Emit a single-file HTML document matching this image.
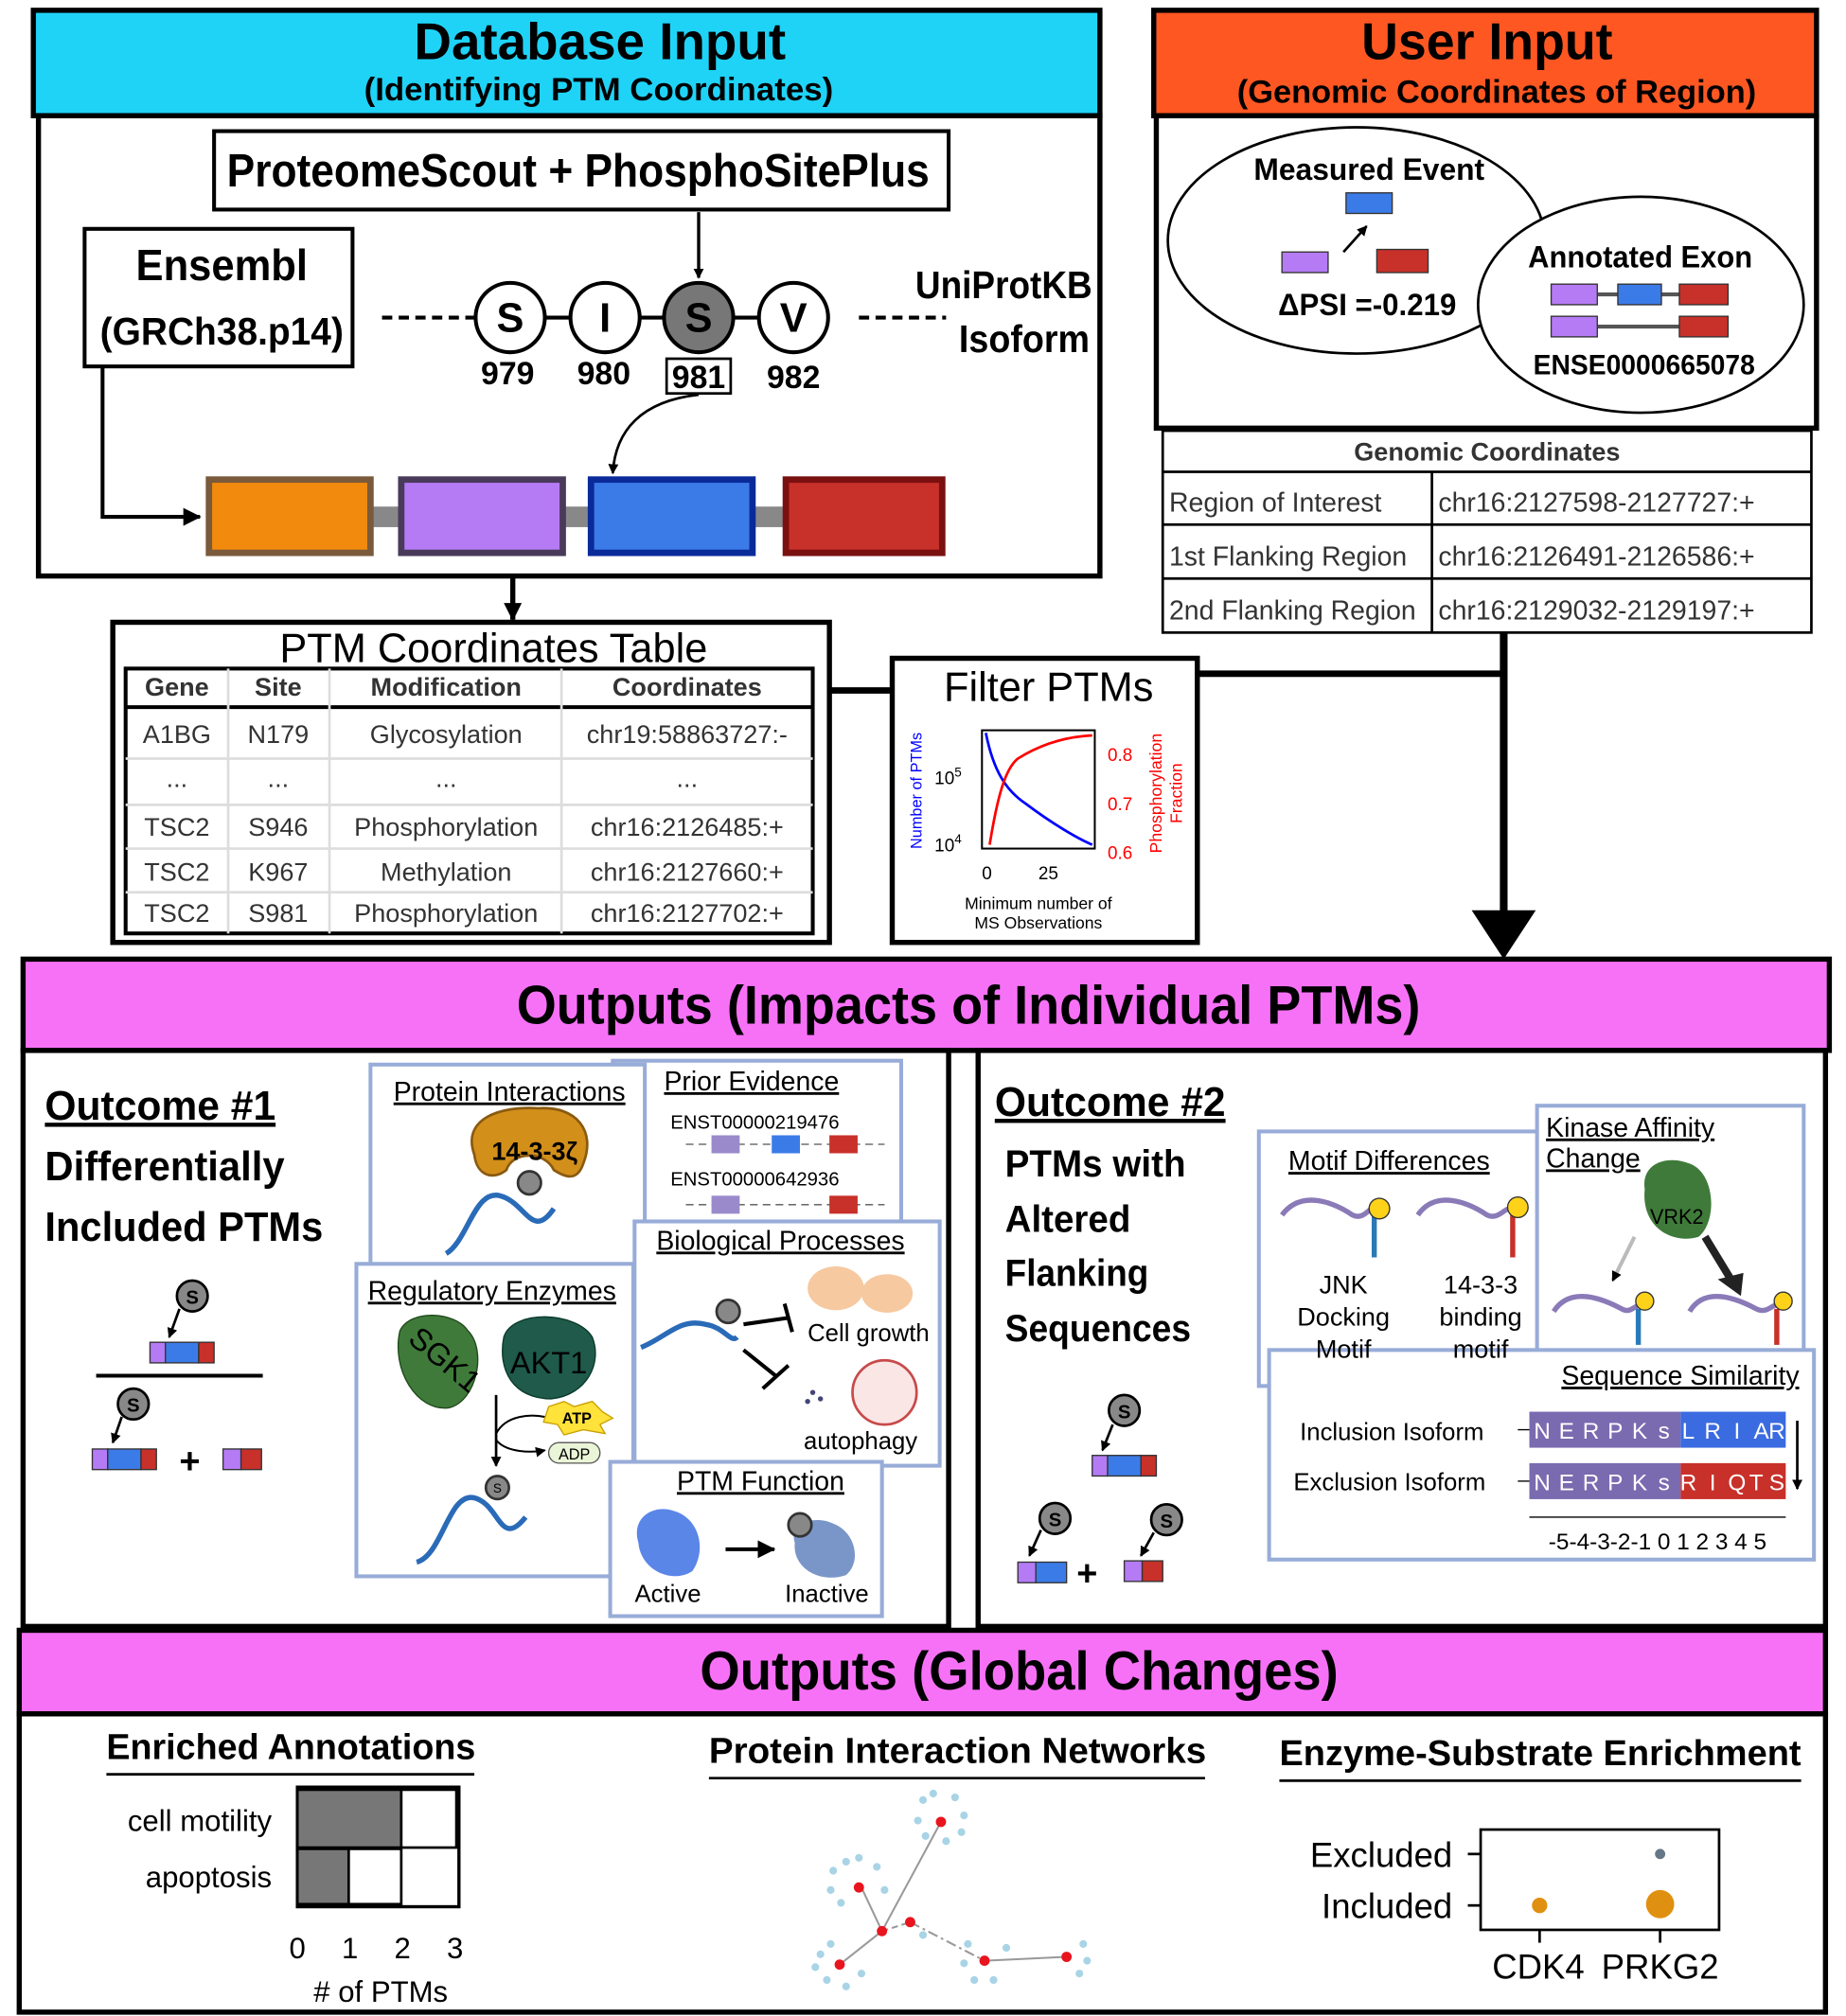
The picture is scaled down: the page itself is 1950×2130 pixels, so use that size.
<!DOCTYPE html>
<html><head><meta charset="utf-8"><style>
html,body{margin:0;padding:0;background:#fff}
svg{display:block}
text{font-family:"Liberation Sans",sans-serif}
.b{font-weight:bold}
</style></head><body>
<svg width="1950" height="2130" viewBox="0 0 1440 1568" preserveAspectRatio="none" xmlns="http://www.w3.org/2000/svg">
<defs>
<marker id="ah" markerWidth="8" markerHeight="8" refX="7" refY="4" orient="auto" markerUnits="userSpaceOnUse"><path d="M0,0 L8,4 L0,8z" fill="#000"/></marker>
<marker id="ahb" markerWidth="14" markerHeight="14" refX="13" refY="7" orient="auto" markerUnits="userSpaceOnUse"><path d="M0,0 L14,7 L0,14z" fill="#000"/></marker>
</defs>
<!-- Database input -->
<rect x="26" y="8" width="832" height="82" fill="#1fd3f7" stroke="#000" stroke-width="4"/>
<text x="323" y="46" class="b" font-size="40" textLength="290" lengthAdjust="spacingAndGlyphs">Database Input</text>
<text x="284" y="78" class="b" font-size="25" textLength="366" lengthAdjust="spacingAndGlyphs">(Identifying PTM Coordinates)</text>
<rect x="30" y="90" width="828" height="358" fill="#fff" stroke="#000" stroke-width="4"/>
<rect x="167" y="102" width="573" height="61" fill="#fff" stroke="#000" stroke-width="3"/>
<text x="177" y="145" class="b" font-size="36" textLength="548" lengthAdjust="spacingAndGlyphs">ProteomeScout + PhosphoSitePlus</text>
<rect x="66" y="178" width="209" height="107" fill="#fff" stroke="#000" stroke-width="3"/>
<text x="106" y="218" class="b" font-size="34" textLength="134" lengthAdjust="spacingAndGlyphs">Ensembl</text>
<text x="78" y="268" class="b" font-size="30" textLength="190" lengthAdjust="spacingAndGlyphs">(GRCh38.p14)</text>
<line x1="298" y1="247" x2="370" y2="247" stroke="#000" stroke-width="3" stroke-dasharray="8,5"/>
<line x1="425" y1="247" x2="592" y2="247" stroke="#000" stroke-width="3"/>
<line x1="670" y1="247" x2="738" y2="247" stroke="#000" stroke-width="3" stroke-dasharray="8,5"/>
<g font-size="32" text-anchor="middle" class="b">
<circle cx="398" cy="247" r="27" fill="#fff" stroke="#000" stroke-width="3"/><text x="398" y="258">S</text>
<circle cx="472" cy="247" r="27" fill="#fff" stroke="#000" stroke-width="3"/><text x="472" y="258">I</text>
<circle cx="545" cy="247" r="27" fill="#777" stroke="#000" stroke-width="3"/><text x="545" y="258">S</text>
<circle cx="619" cy="247" r="27" fill="#fff" stroke="#000" stroke-width="3"/><text x="619" y="258">V</text>
</g>
<g font-size="25" text-anchor="middle" class="b">
<text x="396" y="299">979</text><text x="471" y="299">980</text><text x="545" y="302">981</text><text x="619" y="302">982</text></g>
<rect x="520" y="279" width="50" height="27" fill="none" stroke="#000" stroke-width="2"/>
<text x="714" y="232" class="b" font-size="30" textLength="138" lengthAdjust="spacingAndGlyphs">UniProtKB</text>
<text x="748" y="274" class="b" font-size="30" textLength="102" lengthAdjust="spacingAndGlyphs">Isoform</text>
<line x1="545" y1="165" x2="545" y2="216" stroke="#000" stroke-width="2.5" marker-end="url(#ah)"/>
<path d="M545,307 C500,312 480,335 478,368" fill="none" stroke="#000" stroke-width="2" marker-end="url(#ah)"/>
<path d="M80,285 L80,402 L156,402" fill="none" stroke="#000" stroke-width="3" marker-end="url(#ahb)"/>
<rect x="290" y="394" width="322" height="16" fill="#888"/>
<rect x="163" y="373" width="126" height="57" fill="#f28a0e" stroke="#7a5a3a" stroke-width="5"/>
<rect x="313" y="373" width="126" height="57" fill="#b57bf5" stroke="#4a3a5a" stroke-width="5"/>
<rect x="461" y="373" width="126" height="57" fill="#3b7be8" stroke="#0a2a9a" stroke-width="5"/>
<rect x="613" y="373" width="122" height="57" fill="#c8302a" stroke="#7a1010" stroke-width="5"/>
<line x1="400" y1="448" x2="400" y2="482" stroke="#000" stroke-width="4" marker-end="url(#ahb)"/>

<!-- User input -->
<rect x="900" y="8" width="517" height="82" fill="#ff5722" stroke="#000" stroke-width="4"/>
<text x="1062" y="46" class="b" font-size="40" textLength="196" lengthAdjust="spacingAndGlyphs">User Input</text>
<text x="965" y="80" class="b" font-size="25" textLength="405" lengthAdjust="spacingAndGlyphs">(Genomic Coordinates of Region)</text>
<rect x="902" y="90" width="515" height="243" fill="#fff" stroke="#000" stroke-width="4"/>
<ellipse cx="1058" cy="187" rx="147" ry="88" fill="#fff" stroke="#000" stroke-width="2"/>
<ellipse cx="1280" cy="237" rx="127" ry="84" fill="#fff" stroke="#000" stroke-width="2"/>
<text x="978" y="140" class="b" font-size="24" textLength="180" lengthAdjust="spacingAndGlyphs">Measured Event</text>
<rect x="1050" y="150" width="36" height="16" fill="#3b7be8" stroke="#333"/>
<rect x="1000" y="196" width="36" height="16" fill="#b57bf5" stroke="#333"/>
<rect x="1074" y="194" width="40" height="18" fill="#c8302a" stroke="#333"/>
<line x1="1048" y1="196" x2="1066" y2="176" stroke="#000" stroke-width="2" marker-end="url(#ah)"/>
<text x="997" y="245" class="b" font-size="24" textLength="139" lengthAdjust="spacingAndGlyphs">ΔPSI =-0.219</text>
<text x="1192" y="208" class="b" font-size="24" textLength="175" lengthAdjust="spacingAndGlyphs">Annotated Exon</text>
<line x1="1210" y1="229" x2="1348" y2="229" stroke="#555" stroke-width="3"/>
<line x1="1210" y1="254" x2="1348" y2="254" stroke="#555" stroke-width="3"/>
<rect x="1210" y="221" width="36" height="16" fill="#b57bf5" stroke="#333"/>
<rect x="1262" y="221" width="34" height="16" fill="#3b7be8" stroke="#333"/>
<rect x="1310" y="221" width="38" height="16" fill="#c8302a" stroke="#333"/>
<rect x="1210" y="246" width="36" height="16" fill="#b57bf5" stroke="#333"/>
<rect x="1310" y="246" width="38" height="16" fill="#c8302a" stroke="#333"/>
<text x="1196" y="291" class="b" font-size="22" textLength="173" lengthAdjust="spacingAndGlyphs">ENSE0000665078</text>
<g stroke="#000" stroke-width="2" fill="none">
<rect x="907" y="335" width="506" height="157"/>
<line x1="907" y1="367" x2="1413" y2="367"/><line x1="907" y1="408" x2="1413" y2="408"/><line x1="907" y1="450" x2="1413" y2="450"/>
<line x1="1117" y1="367" x2="1117" y2="492"/></g>
<text x="1160" y="358" text-anchor="middle" class="b" font-size="20" fill="#333">Genomic Coordinates</text>
<g font-size="21" fill="#333"><text x="912" y="398">Region of Interest</text><text x="912" y="440">1st Flanking Region</text><text x="912" y="482">2nd Flanking Region</text>
<text x="1122" y="398">chr16:2127598-2127727:+</text><text x="1122" y="440">chr16:2126491-2126586:+</text><text x="1122" y="482">chr16:2129032-2129197:+</text></g>

<!-- PTM Table -->
<rect x="88" y="484" width="559" height="249" fill="#fff" stroke="#000" stroke-width="4"/>
<text x="385" y="515" text-anchor="middle" font-size="32">PTM Coordinates Table</text>
<rect x="98" y="520" width="536" height="206" fill="#fff" stroke="#000" stroke-width="3"/>
<line x1="98" y1="550" x2="634" y2="550" stroke="#000" stroke-width="3"/>
<g stroke="#ddd" stroke-width="2"><line x1="178" y1="520" x2="178" y2="726"/><line x1="257" y1="520" x2="257" y2="726"/><line x1="438" y1="520" x2="438" y2="726"/>
<line x1="98" y1="590" x2="634" y2="590"/><line x1="98" y1="626" x2="634" y2="626"/><line x1="98" y1="660" x2="634" y2="660"/><line x1="98" y1="694" x2="634" y2="694"/></g>
<g font-size="20" fill="#333" text-anchor="middle">
<text x="138" y="541" class="b">Gene</text><text x="217" y="541" class="b">Site</text><text x="348" y="541" class="b">Modification</text><text x="536" y="541" class="b">Coordinates</text>
<text x="138" y="578">A1BG</text><text x="217" y="578">N179</text><text x="348" y="578">Glycosylation</text><text x="536" y="578">chr19:58863727:-</text>
<text x="138" y="612">...</text><text x="217" y="612">...</text><text x="348" y="612">...</text><text x="536" y="612">...</text>
<text x="138" y="650">TSC2</text><text x="217" y="650">S946</text><text x="348" y="650">Phosphorylation</text><text x="536" y="650">chr16:2126485:+</text>
<text x="138" y="685">TSC2</text><text x="217" y="685">K967</text><text x="348" y="685">Methylation</text><text x="536" y="685">chr16:2127660:+</text>
<text x="138" y="717">TSC2</text><text x="217" y="717">S981</text><text x="348" y="717">Phosphorylation</text><text x="536" y="717">chr16:2127702:+</text></g>

<!-- connectors -->
<line x1="647" y1="537" x2="696" y2="537" stroke="#000" stroke-width="5"/>
<line x1="934" y1="524" x2="1175" y2="524" stroke="#000" stroke-width="5"/>
<line x1="1173" y1="492" x2="1173" y2="712" stroke="#000" stroke-width="6"/>
<path d="M1148,708 L1198,708 L1173,746z" fill="#000"/>

<!-- Filter PTMs -->
<rect x="696" y="512" width="238" height="221" fill="#fff" stroke="#000" stroke-width="4"/>
<text x="818" y="545" text-anchor="middle" font-size="32">Filter PTMs</text>
<rect x="766" y="568" width="88" height="92" fill="none" stroke="#000" stroke-width="1.5"/>
<path d="M769,570 C775,600 785,615 800,625 C820,640 840,652 852,657" fill="none" stroke="#0000ff" stroke-width="2"/>
<path d="M772,657 C778,620 784,598 794,590 C810,580 830,573 852,572" fill="none" stroke="#ff0000" stroke-width="2"/>
<g font-size="14"><text x="729" y="610" fill="#000">10<tspan font-size="10" dy="-6">5</tspan></text><text x="729" y="662">10<tspan font-size="10" dy="-6">4</tspan></text>
<text x="864" y="592" fill="#ff0000">0.8</text><text x="864" y="630" fill="#ff0000">0.7</text><text x="864" y="668" fill="#ff0000">0.6</text>
<text x="766" y="684">0</text><text x="810" y="684">25</text></g>
<text x="810" y="707" text-anchor="middle" font-size="13">Minimum number of</text>
<text x="810" y="722" text-anchor="middle" font-size="13">MS Observations</text>
<text transform="translate(719,615) rotate(-90)" text-anchor="middle" font-size="12" fill="#0000ff">Number of PTMs</text>
<text transform="translate(906,617) rotate(-90)" text-anchor="middle" font-size="13" fill="#ff0000">Phosphorylation</text>
<text transform="translate(922,617) rotate(-90)" text-anchor="middle" font-size="13" fill="#ff0000">Fraction</text>

<!-- Outputs individual -->
<rect x="18" y="746" width="1409" height="71" fill="#f771f7" stroke="#000" stroke-width="4"/>
<text x="403" y="796" class="b" font-size="42" textLength="705" lengthAdjust="spacingAndGlyphs">Outputs (Impacts of Individual PTMs)</text>
<rect x="18" y="817" width="722" height="448" fill="#fff" stroke="#000" stroke-width="4"/>
<rect x="763" y="817" width="661" height="448" fill="#fff" stroke="#000" stroke-width="4"/>
<g class="b" font-size="32"><text x="35" y="871" text-decoration="underline" textLength="180" lengthAdjust="spacingAndGlyphs">Outcome #1</text>
<text x="35" y="918" textLength="187" lengthAdjust="spacingAndGlyphs">Differentially</text><text x="35" y="965" textLength="217" lengthAdjust="spacingAndGlyphs">Included PTMs</text>
<text x="776" y="868" text-decoration="underline" textLength="180" lengthAdjust="spacingAndGlyphs">Outcome #2</text></g>
<g class="b" font-size="29"><text x="784" y="915" textLength="141" lengthAdjust="spacingAndGlyphs">PTMs with</text><text x="784" y="958" textLength="98" lengthAdjust="spacingAndGlyphs">Altered</text><text x="784" y="1000" textLength="112" lengthAdjust="spacingAndGlyphs">Flanking</text><text x="784" y="1043" textLength="145" lengthAdjust="spacingAndGlyphs">Sequences</text></g>
<!-- outcome1 icon -->
<circle cx="150" cy="1008" r="12" fill="#888" stroke="#000" stroke-width="2"/><text x="150" y="1014" text-anchor="middle" class="b" font-size="15">S</text>
<line x1="140" y1="1018" x2="132" y2="1040" stroke="#000" stroke-width="2" marker-end="url(#ah)"/>
<rect x="117" y="1044" width="12" height="16" fill="#b57bf5" stroke="#333"/><rect x="129" y="1044" width="26" height="16" fill="#3b7be8" stroke="#333"/><rect x="155" y="1044" width="12" height="16" fill="#c8302a" stroke="#333"/>
<line x1="75" y1="1070" x2="205" y2="1070" stroke="#000" stroke-width="3"/>
<circle cx="104" cy="1092" r="12" fill="#888" stroke="#000" stroke-width="2"/><text x="104" y="1098" text-anchor="middle" class="b" font-size="15">S</text>
<line x1="95" y1="1102" x2="88" y2="1122" stroke="#000" stroke-width="2" marker-end="url(#ah)"/>
<rect x="72" y="1127" width="12" height="16" fill="#b57bf5" stroke="#333"/><rect x="84" y="1127" width="26" height="16" fill="#3b7be8" stroke="#333"/><rect x="110" y="1127" width="12" height="16" fill="#c8302a" stroke="#333"/>
<text x="148" y="1146" text-anchor="middle" class="b" font-size="28">+</text>
<rect x="174" y="1127" width="14" height="16" fill="#b57bf5" stroke="#333"/><rect x="188" y="1127" width="16" height="16" fill="#c8302a" stroke="#333"/>
<!-- panels -->
<g fill="#fff" stroke="#98acd8" stroke-width="3">
<rect x="478" y="825" width="225" height="140"/>
<rect x="289" y="828" width="214" height="163"/>
<rect x="278" y="983" width="216" height="243"/>
<rect x="495" y="950" width="238" height="190"/>
<rect x="476" y="1137" width="212" height="120"/>
</g>
<g font-size="21" text-decoration="underline">
<text x="307" y="856">Protein Interactions</text><text x="518" y="848">Prior Evidence</text>
<text x="287" y="1011">Regulatory Enzymes</text><text x="512" y="972">Biological Processes</text><text x="528" y="1159">PTM Function</text></g>
<path d="M370,898 C360,870 390,860 420,862 C450,860 465,880 455,905 C450,920 440,915 432,910 C425,895 400,895 395,910 C385,918 372,915 370,898z" fill="#d28f1a" stroke="#8a5a10" stroke-width="2"/>
<text x="417" y="902" text-anchor="middle" class="b" font-size="20">14-3-3ζ</text>
<circle cx="413" cy="920" r="9" fill="#888" stroke="#333" stroke-width="2"/>
<path d="M348,975 C365,965 370,925 390,930 C410,935 415,965 432,940" fill="none" stroke="#2a6bb8" stroke-width="4"/>
<g font-size="15"><text x="523" y="878">ENST00000219476</text><text x="523" y="922">ENST00000642936</text></g>
<line x1="535" y1="890" x2="690" y2="890" stroke="#555" stroke-dasharray="6,4"/><line x1="535" y1="937" x2="690" y2="937" stroke="#555" stroke-dasharray="6,4"/>
<rect x="555" y="883" width="22" height="14" fill="#9a8acb"/><rect x="602" y="883" width="22" height="14" fill="#3b7be8"/><rect x="647" y="883" width="22" height="14" fill="#c8302a"/>
<rect x="555" y="930" width="22" height="14" fill="#9a8acb"/><rect x="647" y="930" width="22" height="14" fill="#c8302a"/>
<!-- enzymes -->
<path d="M312,1035 C320,1018 355,1020 365,1035 C380,1050 372,1090 350,1095 C325,1098 305,1065 312,1035z" fill="#3f7a3a" stroke="#1f4a1a"/>
<text x="345" y="1065" transform="rotate(40 345 1060)" text-anchor="middle" font-size="24">SGK1</text>
<path d="M393,1040 C400,1018 450,1020 462,1040 C470,1060 458,1085 430,1088 C400,1088 388,1065 393,1040z" fill="#1f5a4a" stroke="#0a3a2a"/>
<text x="428" y="1068" text-anchor="middle" font-size="24">AKT1</text>
<line x1="387" y1="1085" x2="387" y2="1140" stroke="#000" stroke-width="2" marker-end="url(#ah)"/>
<path d="M387,1115 C395,1100 415,1100 425,1102" fill="none" stroke="#000" stroke-width="1.5"/>
<path d="M387,1120 C395,1130 415,1130 425,1128" fill="none" stroke="#000" stroke-width="1.5" marker-end="url(#ah)"/>
<path d="M428,1094 L440,1090 L448,1094 L462,1090 L470,1098 L478,1103 L468,1108 L472,1115 L455,1112 L440,1116 L435,1108 L424,1106z" fill="#ffe23a" stroke="#c8a000"/>
<text x="450" y="1107" text-anchor="middle" class="b" font-size="12">ATP</text>
<rect x="428" y="1122" width="40" height="16" rx="8" fill="#eaf5d8" stroke="#555"/><text x="448" y="1135" text-anchor="middle" font-size="12">ADP</text>
<circle cx="388" cy="1157" r="9" fill="#888" stroke="#333" stroke-width="2"/><text x="388" y="1161" text-anchor="middle" font-size="10">S</text>
<path d="M325,1215 C345,1210 350,1160 370,1165 C390,1170 390,1205 410,1180" fill="none" stroke="#2a6bb8" stroke-width="4"/>
<!-- bio processes -->
<path d="M500,1048 C520,1040 530,1025 550,1030 C565,1032 570,1045 575,1040" fill="none" stroke="#2a6bb8" stroke-width="4"/>
<circle cx="568" cy="1020" r="9" fill="#888" stroke="#333" stroke-width="2"/>
<path d="M580,1030 L615,1025 M612,1014 L618,1036" stroke="#000" stroke-width="3"/>
<path d="M580,1050 L605,1070 M595,1080 L615,1062" stroke="#000" stroke-width="3"/>
<ellipse cx="652" cy="1002" rx="22" ry="17" fill="#f6c9a0"/><ellipse cx="692" cy="1006" rx="20" ry="15" fill="#f6c9a0"/>
<text x="630" y="1043" font-size="19">Cell growth</text>
<circle cx="690" cy="1083" r="25" fill="#fbe6e6" stroke="#c84a4a" stroke-width="2"/>
<circle cx="634" cy="1083" r="2" fill="#447"/><circle cx="640" cy="1088" r="2" fill="#447"/><circle cx="630" cy="1090" r="2" fill="#447"/>
<text x="627" y="1127" font-size="19">autophagy</text>
<!-- PTM function -->
<path d="M498,1200 C492,1180 510,1170 525,1175 C545,1180 552,1205 540,1222 C525,1232 500,1222 498,1200z" fill="#5a86e8"/>
<line x1="566" y1="1205" x2="604" y2="1205" stroke="#000" stroke-width="3" marker-end="url(#ahb)"/>
<path d="M620,1200 C615,1185 635,1178 650,1185 C668,1192 672,1215 660,1225 C640,1232 618,1220 620,1200z" fill="#7a96c8"/>
<circle cx="624" cy="1186" r="9" fill="#888" stroke="#333" stroke-width="2"/>
<text x="521" y="1246" text-anchor="middle" font-size="19">Active</text><text x="645" y="1246" text-anchor="middle" font-size="19">Inactive</text>
<!-- outcome2 panels -->
<g fill="#fff" stroke="#98acd8" stroke-width="3">
<rect x="982" y="880" width="222" height="198"/>
<rect x="1199" y="860" width="208" height="196"/>
<rect x="990" y="1050" width="425" height="163"/>
</g>
<g font-size="21" text-decoration="underline"><text x="1005" y="910">Motif Differences</text><text x="1206" y="884">Kinase Affinity</text><text x="1206" y="908">Change</text><text x="1218" y="1077">Sequence Similarity</text></g>
<path d="M1000,945 C1015,925 1040,935 1055,945 C1065,950 1070,935 1072,942" fill="none" stroke="#8a7ab8" stroke-width="4"/><line x1="1072" y1="945" x2="1072" y2="978" stroke="#2a7ab8" stroke-width="4"/>
<circle cx="1076" cy="940" r="8" fill="#ffd21a" stroke="#333"/>
<path d="M1106,945 C1120,925 1145,935 1160,945 C1170,950 1176,935 1180,942" fill="none" stroke="#8a7ab8" stroke-width="4"/><line x1="1180" y1="945" x2="1180" y2="978" stroke="#c8302a" stroke-width="4"/>
<circle cx="1184" cy="939" r="8" fill="#ffd21a" stroke="#333"/>
<g font-size="20" text-anchor="middle"><text x="1048" y="1006">JNK</text><text x="1048" y="1031">Docking</text><text x="1048" y="1056">Motif</text>
<text x="1155" y="1006">14-3-3</text><text x="1155" y="1031">binding</text><text x="1155" y="1056">motif</text></g>
<path d="M1283,925 C1280,905 1300,898 1318,905 C1338,912 1340,950 1325,962 C1305,968 1280,955 1283,925z" fill="#3f7a3a"/>
<text x="1308" y="952" text-anchor="middle" font-size="16">VRK2</text>
<line x1="1275" y1="962" x2="1258" y2="996" stroke="#bbb" stroke-width="3" marker-end="url(#ah)"/>
<line x1="1330" y1="962" x2="1352" y2="998" stroke="#222" stroke-width="6"/><path d="M1340,995 L1360,990 L1358,1008z" fill="#222"/>
<path d="M1212,1020 C1225,1000 1250,1010 1265,1018 C1272,1022 1275,1015 1280,1015" fill="none" stroke="#8a7ab8" stroke-width="4"/><line x1="1278" y1="1018" x2="1278" y2="1046" stroke="#2a7ab8" stroke-width="4"/><circle cx="1283" cy="1012" r="7" fill="#ffd21a" stroke="#333"/>
<path d="M1318,1020 C1330,1000 1355,1010 1370,1018 C1378,1022 1382,1015 1386,1015" fill="none" stroke="#8a7ab8" stroke-width="4"/><line x1="1386" y1="1018" x2="1386" y2="1046" stroke="#c8302a" stroke-width="4"/><circle cx="1391" cy="1012" r="7" fill="#ffd21a" stroke="#333"/>
<g font-size="19"><text x="1014" y="1120">Inclusion Isoform</text><text x="1009" y="1159">Exclusion Isoform</text></g>
<g font-size="18" fill="#fff" text-anchor="middle">
<rect x="1193" y="1098" width="118" height="28" fill="#7a6ab0"/><rect x="1311" y="1098" width="82" height="28" fill="#3b6be0"/>
<rect x="1193" y="1138" width="118" height="28" fill="#7a6ab0"/><rect x="1311" y="1138" width="82" height="28" fill="#c8302a"/>
<text x="1203" y="1119">N</text><text x="1222" y="1119">E</text><text x="1241" y="1119">R</text><text x="1260" y="1119">P</text><text x="1279" y="1119">K</text><text x="1298" y="1119">s</text><text x="1317" y="1119">L</text><text x="1336" y="1119">R</text><text x="1355" y="1119">I</text><text x="1374" y="1119">A</text><text x="1386" y="1119">R</text>
<text x="1203" y="1159">N</text><text x="1222" y="1159">E</text><text x="1241" y="1159">R</text><text x="1260" y="1159">P</text><text x="1279" y="1159">K</text><text x="1298" y="1159">s</text><text x="1317" y="1159">R</text><text x="1336" y="1159">I</text><text x="1355" y="1159">Q</text><text x="1370" y="1159">T</text><text x="1386" y="1159">S</text></g>
<line x1="1184" y1="1112" x2="1193" y2="1112" stroke="#000"/><line x1="1184" y1="1152" x2="1193" y2="1152" stroke="#000"/>
<line x1="1193" y1="1180" x2="1393" y2="1180" stroke="#000"/>
<line x1="1402" y1="1105" x2="1402" y2="1158" stroke="#000" stroke-width="2" marker-end="url(#ah)"/>
<text x="1293" y="1205" text-anchor="middle" font-size="18">-5-4-3-2-1 0 1 2 3 4 5</text>
<!-- outcome2 icon -->
<circle cx="877" cy="1097" r="12" fill="#888" stroke="#000" stroke-width="2"/><text x="877" y="1103" text-anchor="middle" class="b" font-size="15">S</text>
<line x1="868" y1="1108" x2="860" y2="1128" stroke="#000" stroke-width="2" marker-end="url(#ah)"/>
<rect x="852" y="1132" width="12" height="16" fill="#b57bf5" stroke="#333"/><rect x="864" y="1132" width="26" height="16" fill="#3b7be8" stroke="#333"/><rect x="890" y="1132" width="12" height="16" fill="#c8302a" stroke="#333"/>
<circle cx="823" cy="1181" r="12" fill="#888" stroke="#000" stroke-width="2"/><text x="823" y="1187" text-anchor="middle" class="b" font-size="15">S</text>
<line x1="812" y1="1190" x2="803" y2="1210" stroke="#000" stroke-width="2" marker-end="url(#ah)"/>
<rect x="794" y="1215" width="14" height="16" fill="#b57bf5" stroke="#333"/><rect x="808" y="1215" width="24" height="16" fill="#3b7be8" stroke="#333"/>
<text x="848" y="1233" text-anchor="middle" class="b" font-size="28">+</text>
<circle cx="910" cy="1182" r="12" fill="#888" stroke="#000" stroke-width="2"/><text x="910" y="1188" text-anchor="middle" class="b" font-size="15">S</text>
<line x1="900" y1="1192" x2="890" y2="1210" stroke="#000" stroke-width="2" marker-end="url(#ah)"/>
<rect x="877" y="1214" width="14" height="16" fill="#b57bf5" stroke="#333"/><rect x="891" y="1214" width="16" height="16" fill="#c8302a" stroke="#333"/>

<!-- Outputs global -->
<rect x="15" y="1268" width="1409" height="65" fill="#f771f7" stroke="#000" stroke-width="4"/>
<text x="546" y="1314" class="b" font-size="42" textLength="498" lengthAdjust="spacingAndGlyphs">Outputs (Global Changes)</text>
<rect x="15" y="1333" width="1409" height="232" fill="#fff" stroke="#000" stroke-width="4"/>
<g class="b" font-size="28"><text x="83" y="1368" textLength="288" lengthAdjust="spacingAndGlyphs">Enriched Annotations</text><text x="553" y="1371" textLength="388" lengthAdjust="spacingAndGlyphs">Protein Interaction Networks</text><text x="998" y="1373" textLength="407" lengthAdjust="spacingAndGlyphs">Enzyme-Substrate Enrichment</text></g>
<g stroke="#000" stroke-width="2"><line x1="83" y1="1380" x2="370" y2="1380"/><line x1="553" y1="1383" x2="940" y2="1383"/><line x1="998" y1="1385" x2="1405" y2="1385"/></g>
<rect x="232" y="1390" width="126" height="93" fill="#fff" stroke="#000" stroke-width="2.5"/>
<rect x="232" y="1392" width="81" height="45" fill="#777" stroke="#000" stroke-width="2"/><rect x="313" y="1392" width="43" height="45" fill="#fff" stroke="#000" stroke-width="2"/>
<rect x="232" y="1438" width="40" height="43" fill="#777" stroke="#000" stroke-width="2"/><rect x="272" y="1438" width="41" height="43" fill="#fff" stroke="#000" stroke-width="2"/>
<g font-size="23"><text x="212" y="1424" text-anchor="end">cell motility</text><text x="212" y="1468" text-anchor="end">apoptosis</text>
<text x="232" y="1523" text-anchor="middle">0</text><text x="273" y="1523" text-anchor="middle">1</text><text x="314" y="1523" text-anchor="middle">2</text><text x="355" y="1523" text-anchor="middle">3</text>
<text x="297" y="1557" text-anchor="middle"># of PTMs</text></g>
<!-- network -->
<g stroke="#999" stroke-width="1.5" fill="none">
<line x1="734" y1="1417" x2="688" y2="1502"/><line x1="688" y1="1502" x2="655" y2="1528"/><line x1="672" y1="1468" x2="688" y2="1502"/>
<line x1="688" y1="1502" x2="710" y2="1495" stroke-dasharray="5,3"/><line x1="710" y1="1495" x2="768" y2="1525" stroke-dasharray="8,3,2,3"/><line x1="768" y1="1525" x2="832" y2="1522"/></g>
<g fill="#a8d4e6">
<circle cx="720" cy="1400" r="3"/><circle cx="745" cy="1398" r="3"/><circle cx="752" cy="1412" r="3"/><circle cx="728" cy="1395" r="3"/><circle cx="716" cy="1416" r="3"/><circle cx="750" cy="1425" r="3"/><circle cx="738" cy="1432" r="3"/><circle cx="722" cy="1428" r="3"/>
<circle cx="650" cy="1455" r="3"/><circle cx="660" cy="1448" r="3"/><circle cx="648" cy="1470" r="3"/><circle cx="656" cy="1480" r="3"/><circle cx="684" cy="1452" r="3"/><circle cx="690" cy="1470" r="3"/><circle cx="670" cy="1445" r="3"/>
<circle cx="640" cy="1520" r="3"/><circle cx="645" cy="1540" r="3"/><circle cx="660" cy="1545" r="3"/><circle cx="672" cy="1535" r="3"/><circle cx="636" cy="1530" r="3"/><circle cx="648" cy="1512" r="3"/>
<circle cx="755" cy="1512" r="3"/><circle cx="760" cy="1540" r="3"/><circle cx="775" cy="1540" r="3"/><circle cx="785" cy="1515" r="3"/><circle cx="752" cy="1527" r="3"/>
<circle cx="845" cy="1512" r="3"/><circle cx="848" cy="1525" r="3"/><circle cx="842" cy="1535" r="3"/><circle cx="720" cy="1505" r="3"/></g>
<g fill="#e8141e"><circle cx="734" cy="1417" r="4"/><circle cx="670" cy="1468" r="4"/><circle cx="688" cy="1502" r="4"/><circle cx="710" cy="1495" r="4"/><circle cx="655" cy="1528" r="4"/><circle cx="768" cy="1525" r="4"/><circle cx="832" cy="1522" r="4"/></g>
<!-- enzyme-substrate -->
<rect x="1155" y="1423" width="186" height="78" fill="#fff" stroke="#000" stroke-width="2"/>
<g font-size="27"><text x="1133" y="1452" text-anchor="end">Excluded</text><text x="1133" y="1492" text-anchor="end">Included</text>
<text x="1200" y="1539" text-anchor="middle">CDK4</text><text x="1295" y="1539" text-anchor="middle">PRKG2</text></g>
<g stroke="#000" stroke-width="2"><line x1="1145" y1="1442" x2="1155" y2="1442"/><line x1="1145" y1="1482" x2="1155" y2="1482"/><line x1="1201" y1="1501" x2="1201" y2="1511"/><line x1="1295" y1="1501" x2="1295" y2="1511"/></g>
<circle cx="1295" cy="1442" r="4" fill="#667788"/>
<circle cx="1201" cy="1482" r="6" fill="#e09010"/><circle cx="1295" cy="1481" r="11" fill="#e09010"/>
</svg>
</body></html>
